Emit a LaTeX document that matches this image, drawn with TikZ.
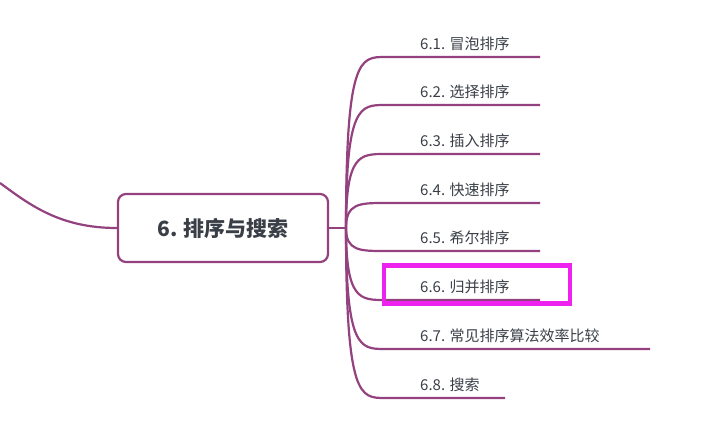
\documentclass[tikz,border=0pt]{standalone}
\usepackage{fontspec}
\newfontfamily\cjk{Noto Sans CJK SC}
\begin{document}
\begin{tikzpicture}[x=1pt,y=-1pt,
  br/.style={draw=pl,line width=2.2pt},
  lab/.style={anchor=south west,inner sep=0pt,font=\cjk\fontsize{15}{15}\selectfont,text=tx}]
\definecolor{pl}{HTML}{94417F}
\definecolor{tx}{HTML}{3A3F47}
\definecolor{mg}{HTML}{EE22EE}
\useasboundingbox (0,0) rectangle (728,429);
\node[draw=pl,line width=2.2pt,rounded corners=8pt,minimum width=210pt,minimum height=68pt,font=\cjk\bfseries\fontsize{21}{21}\selectfont,text=tx] (c) at (223,228) {6. 排序与搜索};
\coordinate (j) at (346,228);
\draw[br] (c.west) .. controls (60,228) and (30,205) .. (0,183);
\draw[br] (c.east) -- (j);
\foreach \y/\e/\t [count=\i] in {57/540/6.1. 冒泡排序,105/540/6.2. 选择排序,154/540/6.3. 插入排序,203/540/6.4. 快速排序,251/540/6.5. 希尔排序,300/540/6.6. 归并排序,349/650/6.7. 常见排序算法效率比较,398/505/6.8. 搜索}{
  \coordinate (s\i) at (385,\y);
  \coordinate (e\i) at (\e,\y);
  \draw[br] (j) .. controls (346,\y) and (360,\y) .. (s\i) -- (e\i);
  \node[lab] (t\i) at (420,\y-6) {\t};
}
\node[draw=mg,line width=4.5pt,minimum width=186pt,minimum height=38pt,inner sep=0pt] (h) at (477,284.5) {};
\end{tikzpicture}
\end{document}
